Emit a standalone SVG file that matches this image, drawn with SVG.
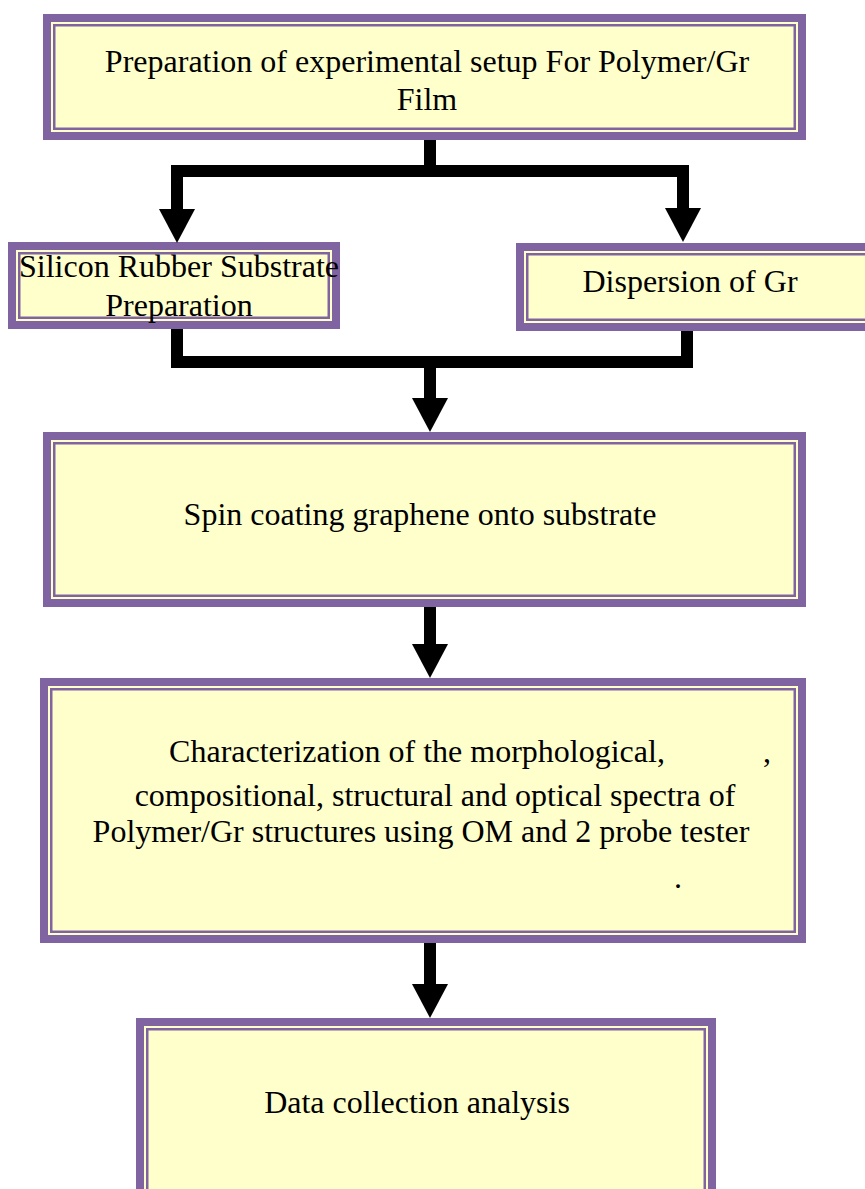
<svg xmlns="http://www.w3.org/2000/svg" width="865" height="1189" viewBox="0 0 865 1189">
<style>
.outer{fill:#8064A2}
.strip{fill:#FFFFCC}
.inner{fill:#FFFFCC;stroke:#8064A2;stroke-width:2.5}
text{font-family:"Liberation Serif","Times New Roman",serif;font-size:32px;fill:#000;text-anchor:middle}
.conn{fill:#000}
</style>
<defs>
<polygon id="ah" points="-18,0 18,0 0,34"/>
</defs>
<g id="n1">
<rect class="outer" x="43" y="14" width="763" height="126"/>
<rect class="strip" x="51" y="22" width="747" height="110"/>
<rect class="inner" x="54.25" y="25.25" width="740.5" height="103.5"/>
<text x="427" y="72">Preparation of experimental setup For Polymer/Gr</text>
<text x="427" y="110">Film</text>
</g>
<g id="n2">
<rect class="outer" x="8" y="242" width="332" height="87"/>
<rect class="strip" x="16" y="250" width="316" height="71"/>
<rect class="inner" x="19.25" y="253.25" width="309.5" height="64.5"/>
<text x="179" y="277">Silicon Rubber Substrate</text>
<text x="179" y="316">Preparation</text>
</g>
<g id="n3">
<rect class="outer" x="516" y="243" width="360" height="88"/>
<rect class="strip" x="524" y="251" width="344" height="72"/>
<rect class="inner" x="527.25" y="254.25" width="340" height="65.5"/>
<text x="690" y="292">Dispersion of Gr</text>
</g>
<g id="n4">
<rect class="outer" x="43" y="432" width="763" height="175"/>
<rect class="strip" x="51" y="440" width="747" height="159"/>
<rect class="inner" x="54.25" y="443.25" width="740.5" height="152.5"/>
<text x="420" y="525">Spin coating graphene onto substrate</text>
</g>
<g id="n5">
<rect class="outer" x="40" y="678" width="766" height="265"/>
<rect class="strip" x="48" y="686" width="750" height="249"/>
<rect class="inner" x="51.25" y="689.25" width="743.5" height="242.5"/>
<text x="417" y="762">Characterization of the morphological,</text>
<text x="767" y="762">,</text>
<text x="435" y="806">compositional, structural and optical spectra of</text>
<text x="421" y="842">Polymer/Gr structures using OM and 2 probe tester</text>
<text x="678" y="888">.</text>
</g>
<g id="n6">
<rect class="outer" x="136" y="1018" width="580" height="190"/>
<rect class="strip" x="144" y="1026" width="564" height="174"/>
<rect class="inner" x="147.25" y="1029.25" width="557.5" height="170"/>
<text x="417" y="1113">Data collection analysis</text>
</g>
<g id="connectors">
<rect class="conn" x="424" y="140" width="12" height="37"/>
<rect class="conn" x="171" y="165" width="518" height="12"/>
<rect class="conn" x="171" y="165" width="12" height="45"/>
<use href="#ah" x="177" y="209"/>
<rect class="conn" x="677" y="165" width="12" height="45"/>
<use href="#ah" x="683" y="208"/>
<rect class="conn" x="171" y="329" width="12" height="39"/>
<rect class="conn" x="681" y="331" width="12" height="37"/>
<rect class="conn" x="171" y="356" width="522" height="12"/>
<rect class="conn" x="424" y="356" width="12" height="43"/>
<use href="#ah" x="430" y="398"/>
<rect class="conn" x="424" y="607" width="12" height="38"/>
<use href="#ah" x="430" y="644"/>
<rect class="conn" x="424" y="943" width="12" height="42"/>
<use href="#ah" x="430" y="984"/>
</g>
</svg>
